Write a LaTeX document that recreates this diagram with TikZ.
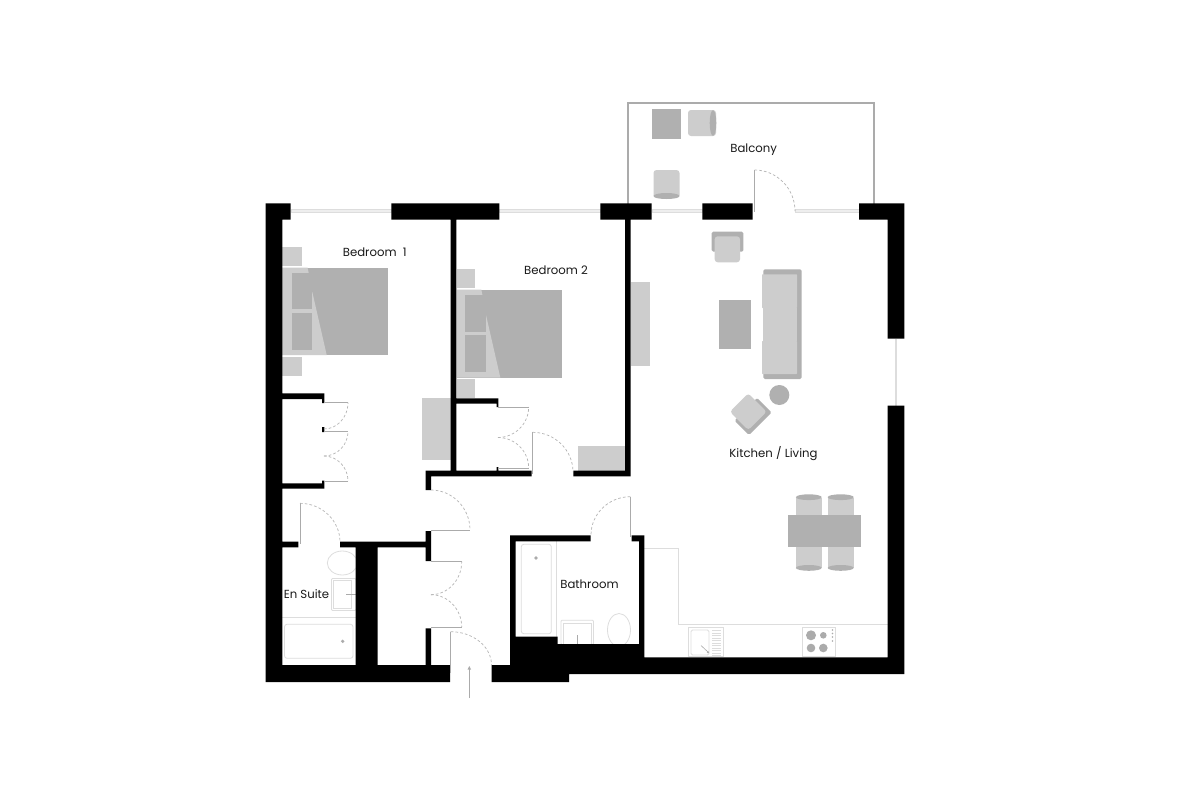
\documentclass[tikz,border=0pt]{standalone}
\usepackage{fontspec}
\setmainfont{Poppins}
\usetikzlibrary{calc}
\definecolor{fdark}{HTML}{B0B0B0}
\definecolor{flight}{HTML}{CDCDCD}
\definecolor{fline}{HTML}{DDDDDD}
\definecolor{fdoor}{HTML}{ABABAB}
\definecolor{fswing}{HTML}{B4B4B4}
\definecolor{fpane}{HTML}{EEEEEE}
\tikzset{
  x=1pt,y=-1pt,
  wall/.style={fill=black,draw=none},
  dark/.style={fill=fdark,draw=none},
  light/.style={fill=flight,draw=none},
  fixture/.style={draw=fline,line width=0.8pt,fill=white},
  fixline/.style={draw=fline,line width=0.8pt},
  windowpane/.style={draw=fline,line width=0.7pt,fill=fpane},
  leaf/.style={draw=fdoor,line width=1pt},
  swing/.style={draw=fswing,line width=0.7pt,dash pattern=on 2.6pt off 2.2pt},
  tap/.style={draw=fdoor,line width=0.6pt},
  roomlabel/.style={font=\fontsize{11.7}{13}\selectfont,text=black!90,inner sep=0pt},
}
\newcommand{\qarc}[4]{\draw[swing] (#1,#2) .. controls ($(#1,#2)!.55!(#3,#2)$) and ($(#3,#4)!.55!(#3,#2)$) .. (#3,#4);}
\begin{document}
\begin{tikzpicture}
\useasboundingbox (0,0) rectangle (1200,800);
\fill[white] (0,0) rectangle (1200,800);

% balcony
\draw[draw=fdoor,line width=2pt] (628.3,204) -- (628.3,103.3) -- (874.3,103.3) -- (874.3,204);
\fill[dark] (652,109) rectangle (681,138.5);
\fill[light,rounded corners=3pt] (688,110) rectangle (716,136);
\fill[dark] (713,123) ellipse [x radius=3.3,y radius=12.8];
\fill[light,rounded corners=3pt] (653.5,170) rectangle (679.5,198);
\fill[dark] (666.5,196) ellipse [x radius=13,y radius=3];

% windows
\draw[windowpane] (291,209.8) rectangle (391.5,212.4);
\draw[windowpane] (499,209.8) rectangle (600.5,212.4);
\draw[windowpane] (652,209.8) rectangle (702.5,212.4);
\draw[windowpane] (795,209.8) rectangle (859,212.4);
\fill[fline] (894.8,338.5) rectangle (897,406);

% bedroom 1 furniture
\fill[light] (282,247) rectangle (301.5,265.5);
\fill[light] (282,356.5) rectangle (301.5,375.5);
\fill[dark] (282,267.5) rectangle (388,355);
\fill[light] (282,267.5) -- (307.5,267.5) -- (308.5,272) -- (308.5,292) -- (312.3,292) -- (326.7,355) -- (282,355) -- cycle;
\fill[dark] (291.5,272.5) rectangle (312,309);
\fill[dark] (291.5,313) rectangle (312,350);
\fill[light] (422,398.3) rectangle (451,460);

% bedroom 2 furniture
\fill[light] (456.5,269.3) rectangle (475.3,288);
\fill[light] (456.5,379) rectangle (475.3,398.3);
\fill[dark] (456.5,289.5) rectangle (561.7,377.5);
\fill[light] (456.5,289.5) -- (481.3,289.5) -- (482.3,294.5) -- (482.3,315) -- (486,315) -- (500.3,377.5) -- (456.5,377.5) -- cycle;
\fill[dark] (465.3,295) rectangle (486,332);
\fill[dark] (465.3,335) rectangle (486,372);
\fill[light] (578,446.3) rectangle (625,471);

% living furniture
\fill[light] (631,282.3) rectangle (650,365.7);
\fill[dark,rounded corners=1.5pt] (711.7,231.7) rectangle (743.3,251.7);
\fill[light,rounded corners=3pt] (714.7,236.3) rectangle (740,262.3);
\fill[dark,rounded corners=1.5pt] (763.3,269.3) rectangle (801.7,379);
\fill[light,rounded corners=0.6pt] (762,274.3) rectangle (797,308);
\fill[light] (762.6,308) rectangle (797,341);
\fill[light,rounded corners=0.6pt] (762,341) rectangle (797,374);
\fill[dark] (719,299.5) rectangle (751,349);
\fill[dark] (779.3,395) circle [radius=10];
\begin{scope}[shift={(748.3,411.7)},rotate=45]
  \fill[dark,rounded corners=1.5pt] (-16,-3.5) rectangle (16,17);
  \fill[light,rounded corners=3pt] (-13,-13) rectangle (13,13);
\end{scope}
% dining
\fill[light] (796,497.5) rectangle (821.7,568);
\fill[light] (827.7,497.5) rectangle (853.7,568);
\fill[dark] (808.8,497.2) ellipse [x radius=12.9,y radius=2.9];
\fill[dark] (840.7,497.2) ellipse [x radius=13,y radius=2.9];
\fill[dark] (808.8,567.9) ellipse [x radius=12.9,y radius=2.9];
\fill[dark] (840.7,567.9) ellipse [x radius=13,y radius=2.9];
\fill[dark] (788.3,515) rectangle (860.7,546.7);

% kitchen
\draw[fixline] (644.3,548.3) -- (678.5,548.3) -- (678.5,624) -- (887.7,624);
\draw[fixture] (688.5,627.3) rectangle (723,656.7);
\draw[fixture,rounded corners=1.5pt] (691,630) rectangle (709,655);
\foreach \yy in {630.5,633,635.5,638,640.5,643,645.5,648,650.5,653,655.5}
  \draw[fixline,line width=0.5pt] (712,\yy) -- (721,\yy);
\draw[tap] (701,645.5) -- (708,652);
\fill[fdoor] (708,652.3) circle [radius=1.1];
\draw[fixture] (802.5,627.5) rectangle (835.5,656.5);
\fill[fdoor] (811,635.3) circle [radius=5];
\fill[fdoor] (823.3,635.3) circle [radius=3.3];
\fill[fdoor] (811,648) circle [radius=4.3];
\fill[fdoor] (823.3,648) circle [radius=4.3];
\foreach \yy in {630,633.5,637,641}
  \fill[fdoor] (832.5,\yy) circle [radius=0.9];

% bathroom fixtures
\draw[fixture,rounded corners=2.5pt] (521.3,544.3) rectangle (551.3,633.7);
\draw[fixline] (556.3,541) -- (556.3,637);
\fill[fdoor] (536,558) circle [radius=1.8];
\draw[fixture,rounded corners=1pt] (561,620.3) rectangle (593.5,644.5);
\draw[fixture] (563.5,623) rectangle (591.5,644.5);
\draw[tap] (577.7,635) -- (577.7,644);
\begin{scope}
  \clip (600,610) rectangle (640,644);
  \draw[fixture] (619,630) ellipse [x radius=11.5,y radius=16.5];
\end{scope}

% en suite fixtures
\begin{scope}
  \clip (320,545) rectangle (355.7,575);
  \draw[fixture] (342.3,563) ellipse [x radius=15,y radius=12];
\end{scope}
\draw[fixture,rounded corners=1pt] (331.5,578.5) rectangle (356,610.5);
\draw[fixture] (333.5,580.3) rectangle (351.7,608.5);
\draw[tap] (346,594) -- (355.7,594);
\draw[fixline] (282,617.3) -- (355.7,617.3);
\draw[fixture,rounded corners=2.5pt] (284.5,624.3) rectangle (353,658.3);
\fill[fdoor] (342.7,641.3) circle [radius=1.8];

% walls
\fill[wall]
  (265.5,203.3) rectangle (282.3,682)
  (265.5,203.3) rectangle (290.7,219.5)
  (391.3,203.3) rectangle (499.3,219.5)
  (600.3,203.3) rectangle (651.7,219.5)
  (702.3,203.3) rectangle (752.7,219.5)
  (859,203.3) rectangle (904.3,219.5)
  (887.7,203.3) rectangle (904.3,338.7)
  (887.7,405.7) rectangle (904.3,674)
  (450.7,219) rectangle (456.3,476)
  (625,219) rectangle (630.7,476)
  (425.7,470.7) rectangle (531.7,476.3)
  (573.3,470.7) rectangle (630.7,476.3)
  (425.7,470.7) rectangle (431,490)
  (425.7,531) rectangle (431,561)
  (425.7,628.3) rectangle (431,666)
  (282,393.3) rectangle (324.3,399)
  (322.2,393.3) rectangle (324.3,403)
  (322.2,427) rectangle (324.3,432)
  (282,483.3) rectangle (324.3,488.7)
  (322.2,480.5) rectangle (324.3,488.7)
  (456,398.3) rectangle (498.3,403.5)
  (496.5,398.3) rectangle (498.3,407)
  (496.5,467) rectangle (498.3,471)
  (282,541.7) rectangle (298.3,547.3)
  (340,541.7) rectangle (426,547.3)
  (355.7,541.7) rectangle (377.7,666)
  (265.5,665) rectangle (450,682)
  (491.7,665) rectangle (569,682)
  (510,535.3) rectangle (590.7,541.3)
  (631.7,535.3) rectangle (644.3,541.3)
  (639,535.3) rectangle (644.3,660)
  (510,535.3) rectangle (515.7,666)
  (510,636.7) rectangle (557.7,666)
  (557.7,644) rectangle (644.3,666)
  (510,657.3) rectangle (904.3,674)
  (510,665) rectangle (569,682);

% doors
\draw[leaf] (324,402.7) -- (348,402.7);
\draw[leaf] (324,431.5) -- (348,431.5);
\draw[leaf] (324,481) -- (348,481);
\qarc{324}{429}{348}{402.7}
\qarc{324}{456}{348}{431.5}
\qarc{324}{456}{348}{481}
\draw[leaf] (498,407) -- (528.7,407);
\draw[leaf] (498,468) -- (528.7,468);
\qarc{498}{437.5}{528.7}{407}
\qarc{498}{437.5}{528.7}{468}
\draw[leaf] (532.7,432.3) -- (532.7,474);
\qarc{532.7}{432.3}{573}{472}
\draw[leaf] (754.5,170) -- (754.5,212);
\qarc{754.5}{170}{795}{211}
\draw[leaf] (300,503.3) -- (300,544);
\qarc{300}{503.3}{340}{542}
\draw[leaf] (431,530) -- (470,530);
\qarc{431}{490}{470}{530}
\draw[leaf] (431,561.7) -- (461.7,561.7);
\draw[leaf] (431,627) -- (461.7,627);
\qarc{431}{594.7}{461.7}{561.7}
\qarc{431}{594.7}{461.7}{627}
\draw[leaf] (450.7,631.7) -- (450.7,673);
\qarc{450.7}{631.7}{491.5}{665}
\draw[leaf] (630.3,496.7) -- (630.3,537);
\qarc{630.3}{496.7}{591}{535}

% entry arrow
\coordinate (entryfrom) at (469.3,698);
\coordinate (entryto) at (469.3,666);
\draw[tap] (entryfrom) -- (469.3,669);
\fill[fdoor] (entryto) -- (471,669.5) -- (467.6,669.5) -- cycle;

% labels
\node[roomlabel] (bed1) at (374.7,252.5) {Bedroom\ \ 1};
\node[roomlabel] (bed2) at (556,270) {Bedroom 2};
\node[roomlabel] (balcony) at (753.7,150) {Balcony};
\node[roomlabel] (kitchen) at (773.5,453.5) {Kitchen / Living};
\node[roomlabel] (bath) at (589.5,584) {Bathroom};
\node[roomlabel] (ensuite) at (306.5,594) {En Suite};
\end{tikzpicture}
\end{document}
